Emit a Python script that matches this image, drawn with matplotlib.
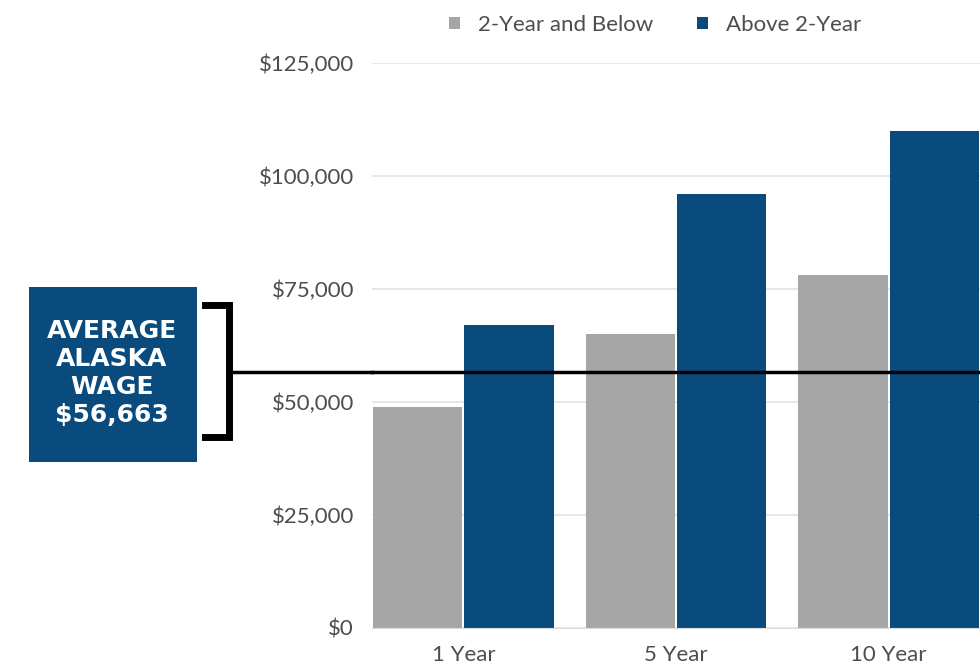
import numpy as np
import matplotlib.pyplot as plt
from matplotlib.patches import Rectangle
from matplotlib.lines import Line2D

categories = ["1 Year", "5 Year", "10 Year"]
below_2yr = [49000, 65000, 78000]
above_2yr = [67000, 96000, 110000]
series_names = ["2-Year and Below", "Above 2-Year"]
avg_wage = 56663
avg_label = "AVERAGE\nALASKA\nWAGE\n$56,663"
y_ticks = [0, 25000, 50000, 75000, 100000, 125000]

GRAY = "#a6a6a6"
BLUE = "#0a4b7e"
TEXT = "#4d4d4d"

plt.rcParams['font.family'] = ['Lato', 'DejaVu Sans']

fig = plt.figure(figsize=(9.8, 6.67), dpi=100)
ax = fig.add_axes([372 / 980, 39 / 667, 1 - 372 / 980, 565 / 667])

x = np.arange(len(categories))
w = 0.42
ax.bar(x - w / 2 - 0.005, below_2yr, width=w, color=GRAY, label=series_names[0], zorder=2)
ax.bar(x + w / 2 + 0.005, above_2yr, width=w, color=BLUE, label=series_names[1], zorder=2)

ax.set_xlim(-0.43, 2.43)
ax.set_ylim(0, 125000)
ax.set_yticks(y_ticks)
ax.set_yticklabels(["${:,}".format(v) for v in y_ticks], fontsize=16, color=TEXT)
ax.set_xticks(x)
ax.set_xticklabels(categories, fontsize=16, color=TEXT)
ax.tick_params(length=0, pad=13, axis='y')
ax.tick_params(length=0, pad=12, axis='x')
ax.yaxis.grid(True, color="#e3e3e3", linewidth=1.2, zorder=0)
for s in ax.spines.values():
    s.set_visible(False)
ax.spines['bottom'].set_visible(True)
ax.spines['bottom'].set_color("#dddddd")

# average wage line across the plot
ax.axhline(avg_wage, color="black", linewidth=2.5, zorder=3, clip_on=False)

# line + bracket to the left of the axes (figure coords)
ax_y = ax.transData.transform((0, avg_wage))[1]
fy = fig.transFigure.inverted().transform((0, ax_y))[1]
fig.add_artist(Line2D([228 / 980, 372 / 980], [fy, fy], color="black", linewidth=2.5))
top_b = 1 - 305 / 667
bot_b = 1 - 437 / 667
fig.add_artist(Line2D([205 / 980, 229 / 980, 229 / 980, 205 / 980],
                      [top_b, top_b, bot_b, bot_b], color="black", linewidth=5,
                      solid_joinstyle='miter'))

# label box
fig.add_artist(Rectangle((29 / 980, 1 - 462 / 667), 168 / 980, 175 / 667,
                         facecolor=BLUE, edgecolor="none"))
fig.text(112 / 980, 1 - 373 / 667, avg_label, ha="center", va="center",
         color="white", fontsize=18, fontweight="bold", linespacing=1.22,
         family=["DejaVu Sans"])

leg = fig.legend(loc="center", bbox_to_anchor=(655 / 980, 1 - 25 / 667), ncol=2,
                 frameon=False, fontsize=16, handlelength=0.5, handleheight=0.5,
                 columnspacing=2.0, handletextpad=0.8)
for t in leg.get_texts():
    t.set_color(TEXT)

fig.savefig("out.png", dpi=100)
